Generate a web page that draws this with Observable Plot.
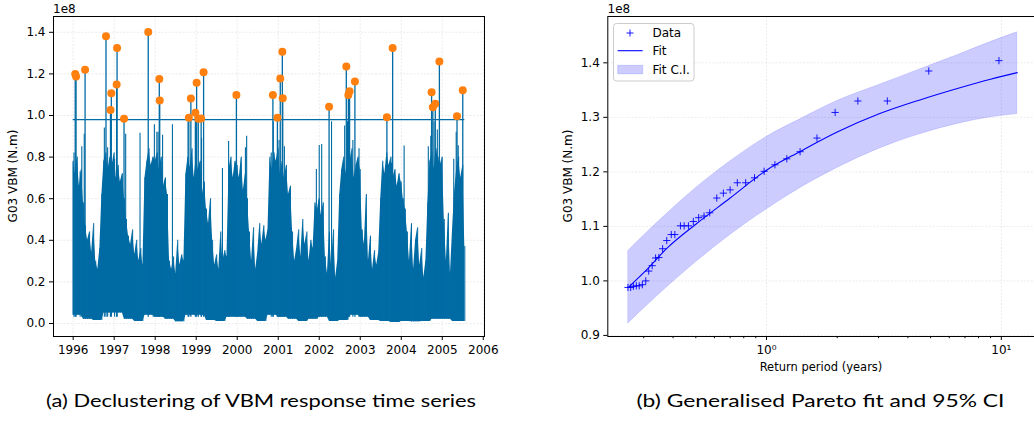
<!DOCTYPE html>
<html><head><meta charset="utf-8">
<script src="https://cdn.jsdelivr.net/npm/d3@7"></script>
<script src="https://cdn.jsdelivr.net/npm/@observablehq/plot@0.6"></script>
<style>
body{margin:0;background:#fff;}
#fig{position:relative;width:1034px;height:421px;overflow:hidden;background:#fff;}
#fig > svg{position:absolute;top:0;}
</style></head><body><div id="fig"></div>
<script>
// ---------- (a) time series, values in units of 1e8 N.m ----------
const combStart = 1996.0, combStep = 0.05;          // dense signal, upper level per 0.05 yr bin
const combHigh = [
  0.78,0.72,0.80,0.66,0.74,0.58,0.47,0.40,0.44,0.34,0.48,0.30,0.26,0.36,0.62,0.78,0.82,0.74,0.80,0.76,
  0.82,0.70,0.76,0.68,0.72,0.60,0.50,0.42,0.38,0.45,0.33,0.40,0.30,0.36,0.28,0.70,0.78,0.84,0.76,0.80,
  0.78,0.82,0.74,0.80,0.66,0.70,0.62,0.30,0.26,0.32,0.24,0.40,0.28,0.33,0.30,0.72,0.80,0.75,0.84,0.70,
  0.80,0.74,0.78,0.62,0.68,0.55,0.48,0.60,0.40,0.28,0.33,0.26,0.44,0.30,0.35,0.32,0.74,0.80,0.70,0.78,
  0.76,0.70,0.80,0.64,0.72,0.60,0.44,0.30,0.46,0.26,0.34,0.48,0.38,0.47,0.40,0.45,0.80,0.74,0.82,0.78,
  0.84,0.72,0.78,0.70,0.76,0.62,0.66,0.44,0.30,0.36,0.45,0.32,0.50,0.38,0.44,0.30,0.40,0.36,0.58,0.54,
  0.60,0.52,0.58,0.32,0.24,0.44,0.28,0.45,0.22,0.30,0.62,0.74,0.80,0.72,0.82,0.78,0.84,0.70,0.76,0.80,
  0.74,0.45,0.38,0.62,0.30,0.42,0.26,0.35,0.28,0.34,0.60,0.78,0.72,0.82,0.76,0.80,0.70,0.74,0.66,0.72,
  0.68,0.60,0.55,0.44,0.30,0.48,0.26,0.40,0.46,0.28,0.36,0.22,0.30,0.58,0.78,0.82,0.74,0.84,0.80,0.76,
  0.80,0.50,0.30,0.53,0.24,0.45,0.63,0.74,0.80,0.70,0.76,0.37
];
const lowStep = 0.25;                                 // lower edge per quarter year
const combLow = [
  0.04,0.02,0.015,0.05, 0.05,0.02,0.01,0.04, 0.03,0.02,0.008,0.04, 0.04,0.015,0.01,0.03,
  0.03,0.02,0.01,0.04, 0.03,0.02,0.01,0.02, 0.03,0.01,0.015,0.04, 0.03,0.015,0.01,0.005,
  0.01,0.008,0.01,0.02, 0.02,0.01,0.01
];
const spikeT = [1996.02,1996.17,1996.21,1996.27,1996.76,1996.84,1997.01,1997.28,1997.63,1997.95,
  1997.98,1998.04,1998.07,1998.18,1998.42,1998.80,1999.13,1999.64,1999.79,2000.20,
  2000.23,2000.83,2000.88,2001.02,2001.15,2001.93,2002.00,2002.06,2002.30,2002.62,
  2002.69,2002.82,2002.97,2003.60,2003.76,2003.91,2004.07,2004.66,2004.72,2004.80,
  2004.88,2005.28,2005.34,2005.39];
const spikeV = [0.82,0.73,0.85,0.91,0.94,0.845,0.79,0.91,0.915,0.774,
  0.955,0.92,0.92,0.905,0.955,0.97,0.89,0.745,0.875,0.845,
  0.90,0.82,0.97,0.88,0.85,0.74,0.856,0.86,0.97,0.95,
  0.97,0.88,0.84,0.67,0.77,0.67,0.853,0.85,0.90,0.97,
  0.93,0.79,0.92,0.855];
const peakT = [1996.05,1996.07,1996.29,1996.80,1996.91,1996.93,1997.06,1997.07,1997.24,1997.83,
  1998.10,1998.11,1998.82,1998.87,1998.98,1999.01,1999.05,1999.12,1999.18,1999.98,
  2000.87,2000.98,2001.05,2001.10,2001.11,2002.24,2002.66,2002.71,2002.74,2002.87,
  2003.65,2003.79,2004.74,2004.77,2004.83,2004.93,2005.36,2005.50];
const peakV = [1.200,1.188,1.220,1.381,1.027,1.107,1.149,1.325,0.984,1.401,
  1.175,1.072,0.989,1.082,1.013,1.157,0.984,0.986,1.208,1.099,
  1.099,0.989,1.178,1.306,1.083,1.042,1.236,1.099,1.117,1.163,
  0.992,1.325,1.112,1.040,1.056,1.260,0.997,1.122];
const threshold = 0.98;
const seriesEnd = 2005.55;
const yearTicks = [1996,1997,1998,1999,2000,2001,2002,2003,2004,2005,2006];
const leftYTicks = [0.0,0.2,0.4,0.6,0.8,1.0,1.2,1.4];

// ---------- (b) GPD fit ----------
const retT = [9.77,4.91,3.27,2.45,1.96,1.64,1.39,1.22,1.086,0.977,0.889,0.815,0.751,0.700,0.655,
  0.614,0.573,0.542,0.514,0.488,0.465,0.446,0.430,0.407,0.393,0.376,0.361,0.348,0.337,0.326,
  0.315,0.306,0.296,0.287,0.279,0.271,0.264,0.257];
const retV = [1.404,1.385,1.330,1.330,1.309,1.262,1.237,1.224,1.213,1.201,1.189,1.180,1.180,1.167,1.161,
  1.152,1.125,1.119,1.116,1.109,1.101,1.101,1.101,1.085,1.085,1.074,1.059,1.043,1.042,1.028,
  1.018,1.000,0.993,0.991,0.991,0.990,0.988,0.988];
const curveT  = [0.258,0.30,0.381,0.5,0.7,1.0,1.4,2.0,3.0,4.5,6.5,9.0,11.69];
const fitV    = [0.988,1.015,1.062,1.104,1.152,1.203,1.238,1.273,1.306,1.332,1.353,1.370,1.382];
const ciLower = [0.922,0.949,0.990,1.034,1.084,1.131,1.171,1.207,1.242,1.269,1.288,1.300,1.306];
const ciUpper = [1.055,1.083,1.125,1.170,1.219,1.264,1.297,1.330,1.359,1.388,1.414,1.438,1.456];
const rightYTicks = [0.9,1.0,1.1,1.2,1.3,1.4];
const majorLog = [1,10];
const minorLog = [0.3,0.4,0.5,0.6,0.7,0.8,0.9,2,3,4,5,6,7,8,9];

// ---------- styling ----------
const blue = "#006BA4", orange = "#FF800E", fitBlue = "#0000ff";
const font = "DejaVu Sans";
const baseStyle = {fontFamily: font, fontSize: "12px", color: "#000", background: "none", overflow: "visible"};
const gridOpts = {stroke: "#b0b0b0", strokeOpacity: 0.3, strokeWidth: 0.8, strokeDasharray: "2,1.5"};

const combData = combHigh.map((v, i) => ({t: combStart + i * combStep, hi: v, lo: combLow[Math.floor(i * combStep / lowStep + 1e-9)]}));
const spikeData = spikeT.map((t, i) => ({t, v: spikeV[i]}));
const peakData = peakT.map((t, i) => ({t, v: peakV[i]}));
const retData = retT.map((t, i) => ({t, v: retV[i]}));
const curveData = curveT.map((t, i) => ({t, fit: fitV[i], lo: ciLower[i], hi: ciUpper[i]}));

const fig = document.getElementById("fig");

const left = Plot.plot({
  width: 520, height: 380,
  marginLeft: 53, marginRight: 36, marginTop: 16, marginBottom: 44,
  style: baseStyle,
  x: {domain: [1995.52, 2006.03], label: null},
  y: {domain: [-0.0625, 1.476], label: null},
  marks: [
    Plot.gridX(yearTicks, gridOpts),
    Plot.gridY(leftYTicks, gridOpts),
    Plot.areaY(combData, {x: "t", y1: "lo", y2: "hi", fill: blue, curve: "linear"}),
    Plot.ruleX(combData, {x: "t", y1: "lo", y2: "hi", stroke: blue, strokeWidth: 1}),
    Plot.ruleX(spikeData, {x: "t", y1: 0.03, y2: "v", stroke: blue, strokeWidth: 1.1}),
    Plot.ruleX(peakData, {x: "t", y1: 0.03, y2: "v", stroke: blue, strokeWidth: 1.3}),
    Plot.ruleY([threshold], {x1: combStart, x2: seriesEnd, stroke: blue, strokeWidth: 1.1}),
    Plot.dot(peakData, {x: "t", y: "v", r: 4, fill: orange, stroke: "none"}),
    Plot.axisX(yearTicks, {tickFormat: d => String(d), tickSize: 4, tickPadding: 5, fontSize: 12}),
    Plot.axisY(leftYTicks, {tickFormat: d => d.toFixed(1), tickSize: 4, tickPadding: 4, fontSize: 12}),
    Plot.frame({stroke: "#000", strokeWidth: 1})
  ]
});
left.style.left = "0px";
fig.appendChild(left);

const plusSymbol = {
  draw(context, size) {
    const a = Math.sqrt(size / Math.PI);
    context.moveTo(-a, 0); context.lineTo(a, 0);
    context.moveTo(0, -a); context.lineTo(0, a);
  }
};

const supers = {0: "\u2070", 1: "\u00B9"};
const right = Plot.plot({
  width: 540, height: 380,
  marginLeft: 87.3, marginRight: 23.5, marginTop: 16, marginBottom: 44,
  style: baseStyle,
  x: {type: "log", domain: [0.2109, 14.19], label: null},
  y: {domain: [0.898, 1.485], label: null},
  marks: [
    Plot.gridX(majorLog, gridOpts),
    Plot.gridY(rightYTicks, gridOpts),
    Plot.areaY(curveData, {x: "t", y1: "lo", y2: "hi", curve: "monotone-x", fill: fitBlue, fillOpacity: 0.2, stroke: fitBlue, strokeOpacity: 0.12, strokeWidth: 1}),
    Plot.line(curveData, {x: "t", y: "fit", curve: "monotone-x", stroke: fitBlue, strokeWidth: 1.1}),
    Plot.dot(retData, {x: "t", y: "v", symbol: plusSymbol, r: 3.6, fill: "none", stroke: fitBlue, strokeWidth: 0.9}),
    Plot.axisX(majorLog, {tickFormat: d => "10" + supers[Math.round(Math.log10(d))], tickSize: 4, tickPadding: 5, fontSize: 12}),
    Plot.axisX(minorLog, {tickFormat: () => "", tickSize: 2.2}),
    Plot.axisY(rightYTicks, {tickFormat: d => d.toFixed(1), tickSize: 4, tickPadding: 4, fontSize: 12}),
    Plot.frame({stroke: "#000", strokeWidth: 1})
  ]
});
right.style.left = "520px";
fig.appendChild(right);

// ---------- overlay texts: offsets, axis labels, legend, captions ----------
const ns = "http://www.w3.org/2000/svg";
const ov = document.createElementNS(ns, "svg");
ov.setAttribute("width", 1034); ov.setAttribute("height", 421);
ov.style.left = "0px"; ov.style.pointerEvents = "none";
fig.appendChild(ov);
function el(tag, attrs, text) {
  const e = document.createElementNS(ns, tag);
  for (const k in attrs) e.setAttribute(k, attrs[k]);
  if (text != null) e.textContent = text;
  ov.appendChild(e); return e;
}
const tf = {"font-family": font, "font-size": 12, fill: "#000"};
el("text", {...tf, x: 53, y: 13}, "1e8");
el("text", {...tf, x: 607.5, y: 13}, "1e8");
el("text", {...tf, transform: "translate(17,176) rotate(-90)", "text-anchor": "middle"}, "G03 VBM (N.m)");
el("text", {...tf, transform: "translate(572,176) rotate(-90)", "text-anchor": "middle"}, "G03 VBM (N.m)");
el("text", {...tf, "font-size": 11.5, x: 821, y: 371, "text-anchor": "middle"}, "Return period (years)");

// legend
el("rect", {x: 613.5, y: 23.5, width: 80.5, height: 57.5, rx: 3, fill: "#fff", "fill-opacity": 0.8, stroke: "#cccccc", "stroke-width": 1});
el("path", {d: "M626.5,33 h7 M630,29.5 v7", stroke: fitBlue, "stroke-width": 0.9, fill: "none"});
el("line", {x1: 617.7, y1: 50.7, x2: 642.7, y2: 50.7, stroke: fitBlue, "stroke-width": 1.1});
el("rect", {x: 617.7, y: 65.3, width: 25, height: 8.5, fill: fitBlue, "fill-opacity": 0.2, stroke: fitBlue, "stroke-opacity": 0.15});
el("text", {...tf, x: 652.5, y: 37}, "Data");
el("text", {...tf, x: 652.5, y: 55.3}, "Fit");
el("text", {...tf, x: 652.5, y: 73.8}, "Fit C.I.");

// captions
const cf = {"font-family": "Lato", "font-size": 17.5, fill: "#000", "text-anchor": "middle", lengthAdjust: "spacingAndGlyphs"};
el("text", {...cf, x: 261, y: 407, textLength: 430}, "(a) Declustering of VBM response time series");
el("text", {...cf, x: 820.5, y: 407, textLength: 368}, "(b) Generalised Pareto fit and 95% CI");
</script></body></html>
